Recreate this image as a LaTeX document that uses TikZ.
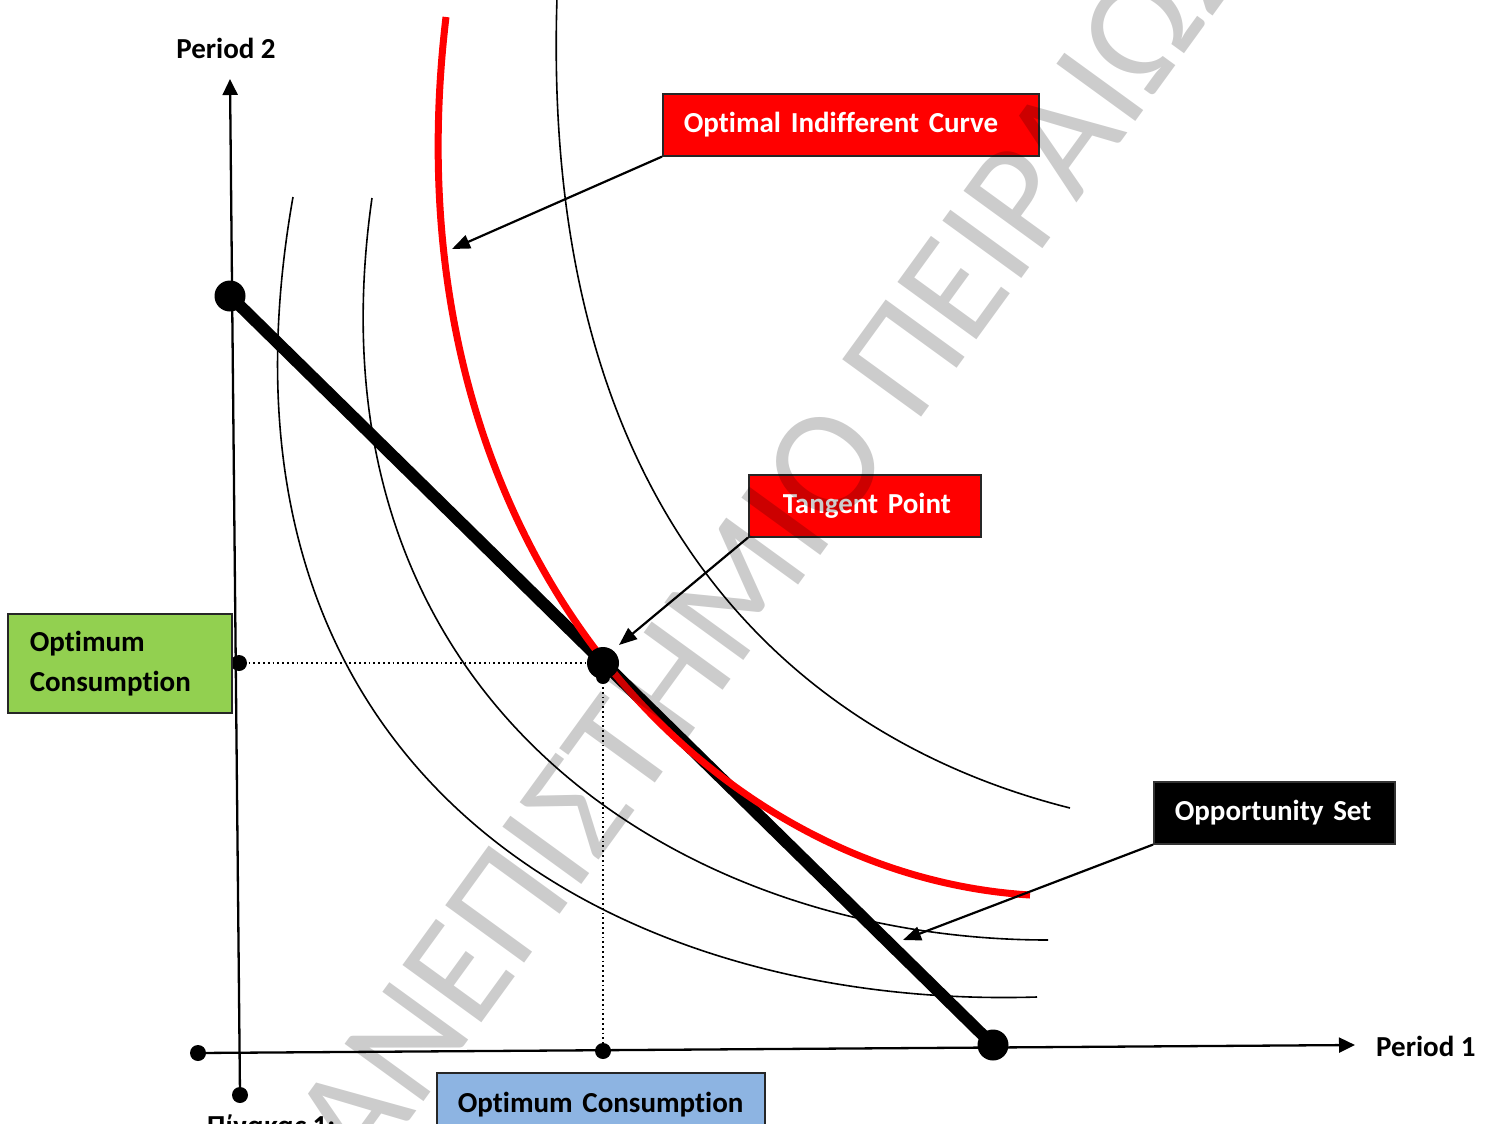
\documentclass[tikz,border=0pt]{standalone}
\usepackage{fontspec}
\setmainfont{Carlito}[Ligatures=NoCommon]
\usetikzlibrary{arrows.meta}

\begin{document}
\begin{tikzpicture}[x=1pt,y=-1pt,
  axis/.style={line width=2.3pt, -{Triangle[length=16pt,width=15pt]}},
  pointer/.style={line width=2.2pt, -{Triangle[length=18pt,width=14pt]}},
  icurve/.style={line width=1.6pt},
  guide/.style={line width=2pt, dash pattern=on 1.8pt off 3pt},
  tag/.style={draw=black!85, line width=1.6pt, anchor=north west,
    font=\fontsize{29}{40}\selectfont\bfseries, align=left,
    inner xsep=0pt, inner ysep=0pt},
  axlabel/.style={font=\fontsize{29}{35}\selectfont\bfseries, inner sep=0pt},
  dot/.style={fill=black},
]
\useasboundingbox (0,0) rectangle (1494,1124);
\fill[white] (0,0) rectangle (1494,1124);

% key points
\coordinate (ytip) at (230,79);
\coordinate (ybot) at (240,1095);
\coordinate (xleft) at (198,1053);
\coordinate (xtip) at (1355,1045);
\coordinate (A) at (230,296);
\coordinate (B) at (993,1045);
\coordinate (T) at (603,663);
\coordinate (Ty) at (239,663);
\coordinate (Tx) at (603,1051);

% indifference curves
\draw[icurve] (293,197) .. controls (190,780) and (620,1010) .. (1037,997);
\draw[icurve] (372,198) .. controls (300,700) and (680,940) .. (1048,940);
\draw[icurve] (557,-2) .. controls (540,520) and (800,740) .. (1070,808);

% budget line (opportunity set)
\draw[line width=12pt] (A) -- (B);

% optimal indifference curve
\draw[red, line width=7pt] (446,17) .. controls (384,537) and (700,875) .. (1030,895);

% guides to the axes
\draw[guide] (Ty) -- (T);
\draw[guide] (T) -- (Tx);

% axes
\draw[axis] (ybot) -- (ytip);
\draw[axis] (xleft) -- (xtip);

% points
\fill[dot] (A) circle (15.5pt);
\fill[dot] (B) circle (15.5pt);
\fill[dot] (T) circle (16pt);
\fill[dot] (603,677) circle (7pt);
\fill[dot] (Ty) circle (8pt);
\fill[dot] (Tx) circle (8pt);
\fill[dot] (ybot) circle (8pt);
\fill[dot] (xleft) circle (8pt);

% axis labels
\node[axlabel] (p2) at (226,48) {Period 2};
\node[axlabel, anchor=west] (p1) at (1376,1046) {Period 1};

% callouts
\node[tag, fill=red, text=white, minimum width=376pt, minimum height=62pt, text width=376pt] (opt) at (662,93) {\hspace*{21pt}Optimal Indifferent Curve};
\node[tag, fill=red, text=white, minimum width=232pt, minimum height=62pt, text width=232pt] (tan) at (748,474) {\hspace*{34pt}Tangent Point};
\node[tag, fill=black, text=white, draw=black!80, minimum width=241pt, minimum height=62pt, text width=241pt] (opp) at (1153,781) {\hspace*{21pt}Opportunity Set};
\node[tag, fill={rgb,255:red,146;green,208;blue,80}, minimum width=224pt, minimum height=99pt, text width=224pt] (c2) at (7,613) {\hspace*{22pt}Optimum\\\hspace*{22pt}Consumption};
\node[tag, fill={rgb,255:red,141;green,180;blue,226}, minimum width=328pt, minimum height=63pt, text width=328pt] (c1) at (436,1072) {\hspace*{21pt}Optimum Consumption};

\draw[pointer] (opt.south west) -- (452,249);
\draw[pointer] (tan.south west) -- (619,645);
\draw[pointer] (opp.south west) -- (903,940);

% caption below the figure
\node[axlabel, anchor=base west] (cap) at (207,1135) {Πίνακας 1:};

% watermark
\node[rotate=54, text=black, text opacity=0.2, inner sep=0pt,
  font=\fontsize{152}{152}\selectfont] (wm) at (741,582) {ΠΑΝΕΠΙΣΤΗΜΙΟ ΠΕΙΡΑΙΩΣ};
\end{tikzpicture}
\end{document}
